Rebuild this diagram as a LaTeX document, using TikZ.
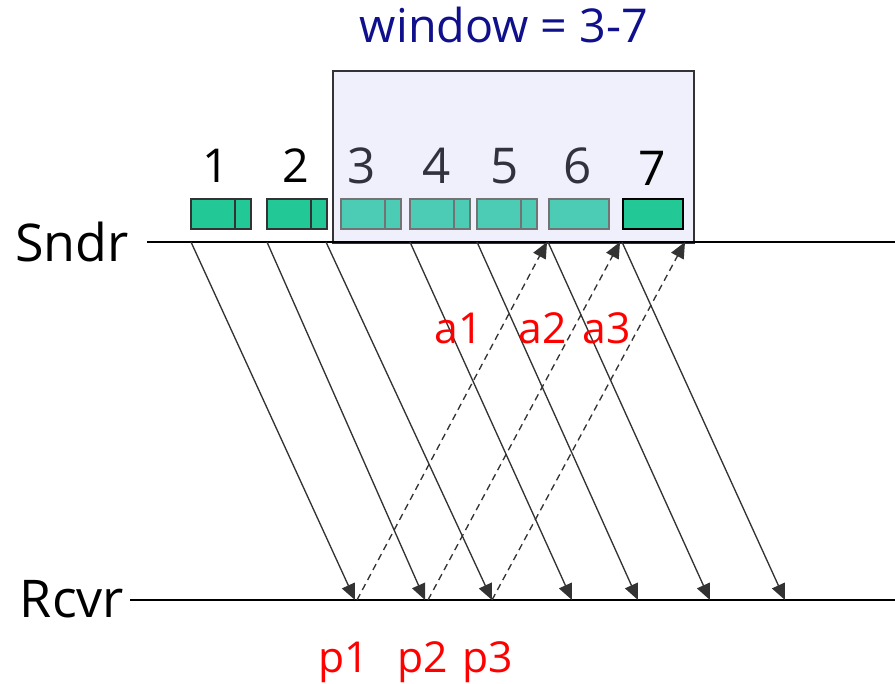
\documentclass[tikz,border=0pt]{standalone}
\usepackage{fontspec}
\setmainfont{Open Sans}
\usetikzlibrary{arrows.meta}
\definecolor{pktA}{RGB}{34,201,150}
\definecolor{pktB}{RGB}{76,204,180}
\definecolor{winfill}{RGB}{240,240,252}
\definecolor{navy}{RGB}{16,16,140}
\definecolor{dgray}{RGB}{51,51,51}
\definecolor{numgray}{RGB}{50,50,62}
\tikzset{
  pkt/.style={draw=#1, line width=1.3pt, minimum width=45pt, minimum height=22.5pt, inner sep=0pt, anchor=north west},
  lbl/.style={anchor=base, inner sep=0pt, font=\fontsize{32}{35}\selectfont, text=red},
  num/.style={anchor=base, inner sep=0pt},
  side/.style={anchor=base, inner sep=0pt, font=\fontsize{39}{42}\selectfont},
  data/.style={draw=dgray, line width=1pt, -{Triangle[length=12pt,width=10.5pt]}},
  ack/.style={draw=dgray, line width=1pt, dash pattern=on 5pt off 3.5pt, -{Triangle[length=12pt,width=10.5pt]}},
}
\begin{document}
\begin{tikzpicture}[x=0.75pt,y=-0.75pt]
\useasboundingbox (0,0) rectangle (895,684);
% window box
\node[draw=dgray, fill=winfill, line width=1.3pt, minimum width=270.75pt, minimum height=129pt, inner sep=0pt, anchor=north west] (win) at (332,70) {};
\node[anchor=base, inner sep=0pt, text=navy, font=\fontsize{35}{38}\selectfont] (wt) at (504,43) {window = 3-7};
% lines
\coordinate (sL) at (147,242);
\coordinate (sR) at (895,242);
\coordinate (rL) at (130,600);
\coordinate (rR) at (895,600);
\draw[line width=1.2pt] (sL) -- (sR);
\draw[line width=1.2pt] (rL) -- (rR);
\node[side] (sndr) at (72,262) {Sndr};
\node[side] (rcvr) at (72,617) {Rcvr};
% packets
\node[pkt=dgray, fill=pktA] (p1) at (190,198) {};
\node[pkt=dgray, fill=pktA] (p2) at (266,198) {};
\node[pkt=gray!90!black, fill=pktB] (p3) at (340,198) {};
\node[pkt=gray!90!black, fill=pktB] (p4) at (409,198) {};
\node[pkt=gray!90!black, fill=pktB] (p5) at (476,198) {};
\node[pkt=gray!90!black, fill=pktB] (p6) at (548,198) {};
\node[pkt=black, fill=pktA] (p7) at (622,198) {};
\draw[draw=dgray, line width=1.3pt] (235,198) -- (235,228);
\draw[draw=dgray, line width=1.3pt] (311,198) -- (311,228);
\draw[draw=gray!90!black, line width=1.3pt] (385,198) -- (385,228);
\draw[draw=gray!90!black, line width=1.3pt] (454,198) -- (454,228);
\draw[draw=gray!90!black, line width=1.3pt] (521,198) -- (521,228);
% numbers
\node[num, font=\fontsize{35}{38}\selectfont] (n1) at (216,183) {1};
\node[num, font=\fontsize{35}{38}\selectfont] (n2) at (296,183) {2};
\node[num, text=numgray, font=\fontsize{37}{40}\selectfont] (n3) at (362,184) {3};
\node[num, text=numgray, font=\fontsize{37}{40}\selectfont] (n4) at (437,184) {4};
\node[num, text=numgray, font=\fontsize{37}{40}\selectfont] (n5) at (505,184) {5};
\node[num, text=numgray, font=\fontsize{37}{40}\selectfont] (n6) at (578,184) {6};
\node[num, font=\fontsize{36}{39}\selectfont] (n7) at (652,186) {7};
% data arrows
\foreach \i/\a/\b in {1/191/355, 2/267/425, 3/326/492, 4/410/572, 5/477/638, 6/548/710, 7/622/785} {
  \coordinate (ds\i) at (\a,242);
  \coordinate (dr\i) at (\b,600);
  \draw[data] (ds\i) -- (dr\i);
}
% ack arrows
\foreach \i/\a/\b in {1/357/547, 2/428/620, 3/492/685} {
  \coordinate (ar\i) at (\a,600);
  \coordinate (as\i) at (\b,242);
  \draw[ack] (ar\i) -- (as\i);
}
% labels
\node[lbl] (a1) at (459,343) {a1};
\node[lbl] (a2) at (543,343) {a2};
\node[lbl] (a3) at (607,343) {a3};
\node[lbl] (q1) at (344,672) {p1};
\node[lbl] (q2) at (423,672) {p2};
\node[lbl] (q3) at (488,672) {p3};
\end{tikzpicture}
\end{document}
